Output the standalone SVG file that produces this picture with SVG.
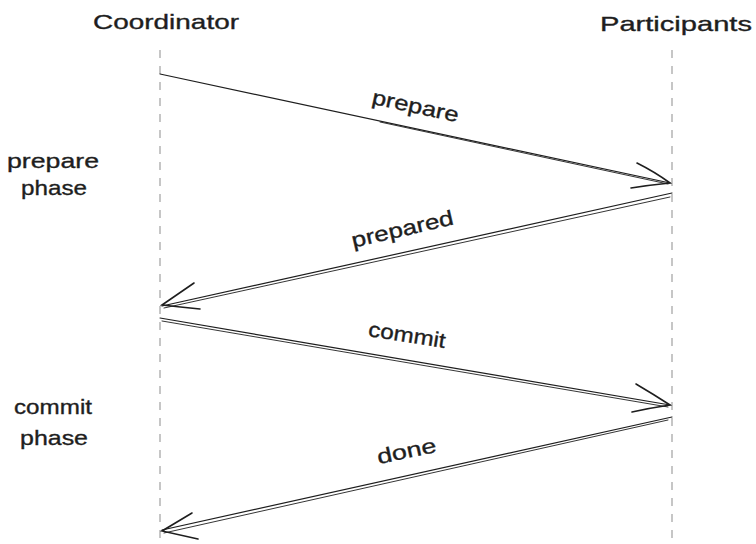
<svg xmlns="http://www.w3.org/2000/svg" width="756" height="544" viewBox="0 0 756 544">
<style>
.life{stroke:#a8a8a8;stroke-width:1.3;stroke-dasharray:8 8;fill:none}
.ln{stroke:#1e1e1e;stroke-width:1.2;fill:none;stroke-linecap:round}
.ln2{stroke:#1e1e1e;stroke-width:0.9;fill:none;stroke-linecap:round}
.hd{stroke:#1e1e1e;stroke-width:1.6;fill:none;stroke-linecap:round}
text{font-family:"Comic Sans MS","Liberation Sans",sans-serif;fill:#1e1e1e;font-size:21px;stroke:#1e1e1e;stroke-width:0.35}
</style>
<rect width="756" height="544" fill="#ffffff"/>
<g id="coordinator">
<text x="166" y="29" text-anchor="middle" textLength="146" lengthAdjust="spacingAndGlyphs">Coordinator</text>
<line class="life" x1="160" y1="50" x2="160" y2="544"/>
</g>
<g id="participants">
<text x="676" y="31" text-anchor="middle" textLength="152" lengthAdjust="spacingAndGlyphs">Participants</text>
<line class="life" x1="672" y1="50" x2="672" y2="544"/>
</g>
<g id="prepare-phase">
<text x="53" y="168" text-anchor="middle" textLength="92" lengthAdjust="spacingAndGlyphs">prepare</text>
<text x="54" y="195" text-anchor="middle" textLength="66" lengthAdjust="spacingAndGlyphs">phase</text>
</g>
<g id="commit-phase">
<text x="53" y="414" text-anchor="middle" textLength="78" lengthAdjust="spacingAndGlyphs">commit</text>
<text x="54" y="445" text-anchor="middle" textLength="68" lengthAdjust="spacingAndGlyphs">phase</text>
</g>
<g id="connectors">
<g id="arrow-prepare">
<path class="ln" d="M160 74 L670 183"/>
<path class="ln2" d="M380 122 L668 184"/>
<path class="hd" d="M637 163 Q655 172 670 183 Q650 185 631 188"/>
<text transform="translate(414,113) rotate(12)" text-anchor="middle" textLength="88" lengthAdjust="spacingAndGlyphs">prepare</text>
</g>
<g id="arrow-prepared">
<path class="ln" d="M672 193 L162 306"/>
<path class="ln2" d="M670 197 L164 308"/>
<path class="hd" d="M194 283 Q178 294 162 305 Q180 307 200 309"/>
<text transform="translate(404,236) rotate(-13)" text-anchor="middle" textLength="104" lengthAdjust="spacingAndGlyphs">prepared</text>
</g>
<g id="arrow-commit">
<path class="ln" d="M160 318 L670 405"/>
<path class="ln2" d="M162 321 L668 407"/>
<path class="hd" d="M636 384 Q653 394 670 405 Q650 408 632 412"/>
<text transform="translate(406,342) rotate(9)" text-anchor="middle" textLength="78" lengthAdjust="spacingAndGlyphs">commit</text>
</g>
<g id="arrow-done">
<path class="ln" d="M672 417 L162 530"/>
<path class="ln2" d="M668 420 L164 533"/>
<path class="hd" d="M192 513 Q177 522 162 531 Q180 535 198 539"/>
<text transform="translate(408,458) rotate(-12)" text-anchor="middle" textLength="60" lengthAdjust="spacingAndGlyphs">done</text>
</g>
</g>
</svg>
